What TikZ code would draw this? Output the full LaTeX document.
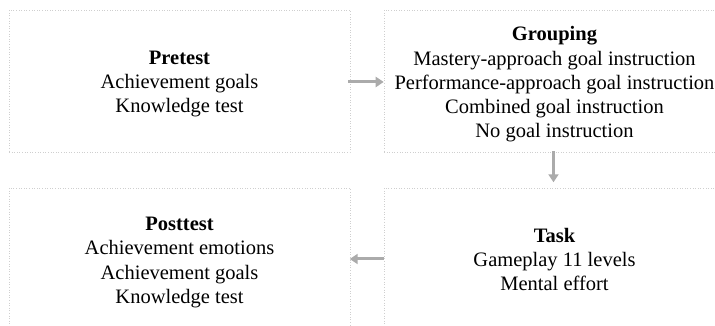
\documentclass[tikz,border=0pt]{standalone}
\usepackage{fontspec}
\setmainfont{Liberation Serif}
\usetikzlibrary{arrows.meta}
\definecolor{framegray}{HTML}{CFCFCF}
\definecolor{arrowgray}{HTML}{ABABAB}
\begin{document}
\begin{tikzpicture}[x=1pt,y=1pt,
  stagebox/.style={draw=framegray, dotted, line width=0.6pt,
    minimum width=341pt, minimum height=142pt, inner sep=0pt},
  stagetext/.style={align=center, inner sep=0pt,
    font=\fontsize{20.5}{24.3}\selectfont},
  flow/.style={draw=arrowgray, line width=3pt,
    -{Triangle[length=8pt,width=10pt]}}]
\useasboundingbox (0,0) rectangle (715,326);
\clip (0,0) rectangle (715,326);
% frames of the four stages
\node[stagebox] (pre)  at (179.5,245) {};
\node[stagebox] (grp)  at (554.5,245) {};
\node[stagebox] (task) at (554.5,67) {};
\node[stagebox] (post) at (179.5,67) {};
% stage contents
\node[stagetext] (pretxt)  at (179.5,242) {\textbf{Pretest}\\Achievement goals\\Knowledge test};
\node[stagetext] (grptxt)  at (554.5,241.5) {\textbf{Grouping}\\Mastery-approach goal instruction\\Performance-approach goal instruction\\Combined goal instruction\\No goal instruction};
\node[stagetext] (tasktxt) at (554.5,66.5) {\textbf{Task}\\Gameplay 11 levels\\Mental effort};
\node[stagetext] (posttxt) at (179.5,63.5) {\textbf{Posttest}\\Achievement emotions\\Achievement goals\\Knowledge test};
% flow between stages
\draw[flow] (pre.east |- 0,244) ++(-2,0) coordinate (a1) -- (a1 -| grp.west);
\draw[flow] (grp.south) ++(-1,1) coordinate (a2) -- ++(0,-31);
\draw[flow] (task.west |- 0,67) coordinate (a3) -- ++(-34,0);
\end{tikzpicture}
\end{document}
